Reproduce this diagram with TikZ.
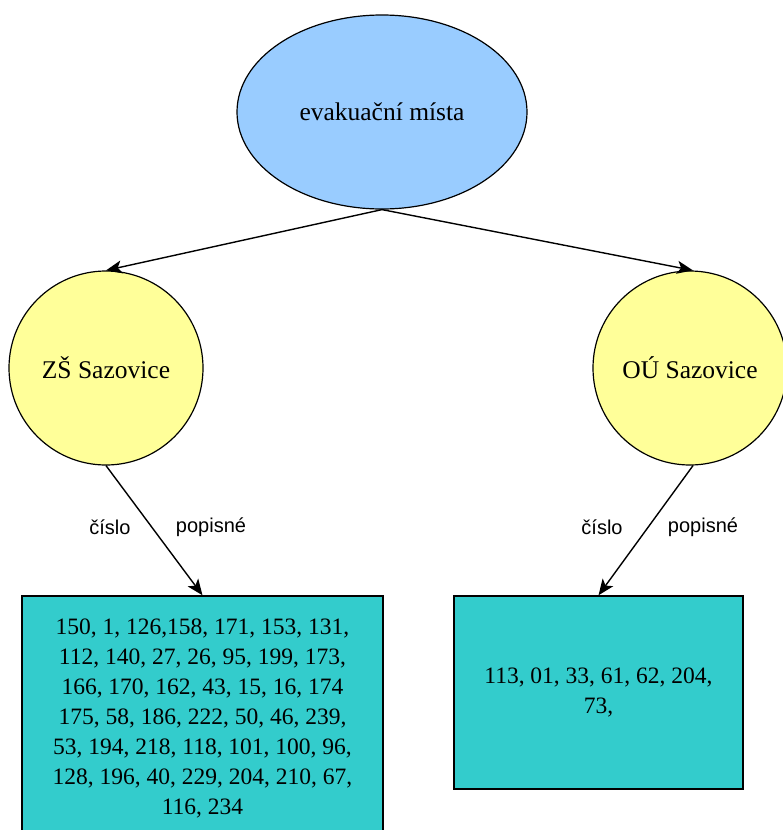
\documentclass[tikz,border=0pt]{standalone}
\usepackage{fontspec}
\setmainfont{Liberation Serif}
\newfontfamily\labfont{Liberation Sans}
\usetikzlibrary{shapes.geometric,arrows.meta}
\definecolor{evblue}{HTML}{99CCFF}
\definecolor{plyellow}{HTML}{FFFF99}
\definecolor{boxteal}{HTML}{33CCCC}
\tikzset{
  edgearr/.style={draw=black, line width=1.4pt, -{Stealth[length=16pt,width=13pt,inset=4pt]}},
  evnode/.style={ellipse, draw=black, line width=1.2pt, fill=evblue, minimum width=290pt, minimum height=194pt, inner sep=0pt, font=\fontsize{25.5}{30}\selectfont},
  plnode/.style={circle, draw=black, line width=1.2pt, fill=plyellow, minimum size=194pt, inner sep=0pt, font=\fontsize{25.5}{30}\selectfont},
  boxnode/.style={rectangle, draw=black, line width=1.4pt, fill=boxteal, inner sep=0pt, align=center, font=\fontsize{23.5}{30}\selectfont},
  lab/.style={font=\labfont\fontsize{20}{24}\selectfont, inner sep=0pt}
}
\begin{document}
\begin{tikzpicture}[x=1pt,y=-1pt]
\useasboundingbox (0,0) rectangle (783,830);
\clip (0,0) rectangle (783,830);
\node[evnode] (ev) at (382,112) {evakuační místa};
\node[plnode] (zs) at (106,368) {ZŠ Sazovice};
\node[plnode] (ou) at (690,368) {OÚ Sazovice};
\node[boxnode, minimum width=361pt, minimum height=244pt] (lb) at (202.5,718)
  {150, 1, 126,158, 171, 153, 131,\\
   112, 140, 27, 26, 95, 199, 173,\\
   166, 170, 162, 43, 15, 16, 174\\
   175, 58, 186, 222, 50, 46, 239,\\
   53, 194, 218, 118, 101, 100, 96,\\
   128, 196, 40, 229, 204, 210, 67,\\
   116, 234};
\node[boxnode, minimum width=289pt, minimum height=193pt] (rb) at (598.5,692.5)
  {113, 01, 33, 61, 62, 204,\\ 73,};
\draw[edgearr] (ev.south) -- (zs.north);
\draw[edgearr] (ev.south) -- ([xshift=3pt]ou.north);
\draw[edgearr] (zs.south) -- (lb.north);
\draw[edgearr] ([xshift=3pt]ou.south) -- (rb.north);
\node[lab] (l1) at (110,527) {číslo};
\node[lab] (l2) at (211,527) {popisné};
\node[lab] (l3) at (602,527) {číslo};
\node[lab] (l4) at (703,527) {popisné};
\end{tikzpicture}
\end{document}
